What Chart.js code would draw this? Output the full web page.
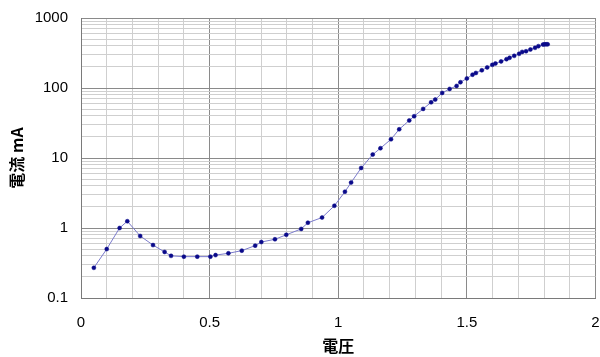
<!DOCTYPE html>
<html>
<head>
<meta charset="utf-8">
<script src="https://cdn.jsdelivr.net/npm/chart.js@4/dist/chart.umd.min.js"></script>
<style>
  html, body { margin: 0; padding: 0; background: #fff; }
  #wrap { width: 600px; height: 357px; }
</style>
</head>
<body>
<div id="wrap"><canvas id="c" width="600" height="357"></canvas></div>
<script>
// Voltage (V) and current (mA) samples of the diode I-V sweep
const voltage = [0.05, 0.10, 0.15, 0.18, 0.23, 0.28, 0.325, 0.35, 0.40, 0.452, 0.503, 0.523,
  0.573, 0.625, 0.677, 0.701, 0.754, 0.798, 0.856, 0.882, 0.937, 0.985, 1.026, 1.050, 1.089,
  1.134, 1.164, 1.205, 1.237, 1.276, 1.295, 1.330, 1.361, 1.377, 1.404, 1.433, 1.460, 1.475,
  1.500, 1.522, 1.535, 1.558, 1.579, 1.599, 1.611, 1.633, 1.654, 1.666, 1.684, 1.703, 1.715,
  1.730, 1.747, 1.765, 1.778, 1.796, 1.802, 1.808, 1.814];
const current = [0.27, 0.50, 1.0, 1.25, 0.77, 0.57, 0.455, 0.40, 0.39, 0.39, 0.39, 0.41,
  0.435, 0.475, 0.56, 0.63, 0.69, 0.80, 0.97, 1.19, 1.41, 2.08, 3.3, 4.46, 7.2,
  11.2, 13.8, 18.5, 25.7, 34.4, 39.5, 50.3, 62.5, 68.3, 85, 97, 107, 121,
  137, 155, 164, 179, 197, 214, 224, 240, 258, 270, 288, 308, 328,
  335, 355, 375, 396, 417, 420, 421, 420];

// Axis ranges and labelled ticks
const xTickLabels = [0, 0.5, 1, 1.5, 2];
const xMinorStep = 0.1;
const yTickLabels = [0.1, 1, 10, 100, 1000];

const points = voltage.map((v, i) => ({ x: v, y: current[i] }));

const isLabelledX = v => xTickLabels.some(t => Math.abs(t - v) < 1e-6);
const isDecade = v => yTickLabels.some(t => Math.abs(t - v) / t < 1e-6);

const MAJOR = '#8a8a8a';
const MINOR = '#cfcfcf';
const CLEAR = 'rgba(0,0,0,0)';
const tickFont = { family: '"Liberation Sans", Arial, sans-serif', size: 15 };
const titleFont = { family: '"Noto Sans CJK JP", sans-serif', size: 16, weight: 'bold' };

new Chart(document.getElementById('c'), {
  type: 'line',
  data: {
    datasets: [{
      data: points,
      borderColor: '#7a7acb',
      borderWidth: 1,
      pointBackgroundColor: '#0a0a8a',
      pointBorderColor: '#0a0a8a',
      pointRadius: 2,
      pointBorderWidth: 0.5,
      tension: 0,
      fill: false
    }]
  },
  options: {
    responsive: false,
    animation: false,
    events: [],
    layout: { padding: { left: 0, right: 0, top: 18, bottom: 0 } },
    plugins: { legend: { display: false }, tooltip: { enabled: false } },
    scales: {
      x: {
        type: 'linear',
        min: xTickLabels[0],
        max: xTickLabels[xTickLabels.length - 1],
        afterBuildTicks: scale => {
          const ticks = [];
          const n = Math.round((scale.max - scale.min) / xMinorStep);
          for (let i = 0; i <= n; i++) {
            ticks.push({ value: Math.round((scale.min + i * xMinorStep) * 1000) / 1000 });
          }
          scale.ticks = ticks;
        },
        afterFit: scale => { scale.height = 59; },
        ticks: {
          autoSkip: false,
          maxRotation: 0,
          padding: 0,
          color: '#000',
          font: tickFont,
          callback: v => (isLabelledX(v) ? String(v) : '')
        },
        grid: {
          drawTicks: true,
          tickLength: 16,
          tickColor: CLEAR,
          color: ctx => (ctx.tick && isLabelledX(ctx.tick.value) ? MAJOR : MINOR)
        },
        border: { color: '#7a7a7a', width: 1 },
        title: {
          display: true,
          text: '電圧',
          color: '#000',
          font: titleFont,
          padding: { top: 0, bottom: 1 }
        }
      },
      y: {
        type: 'logarithmic',
        min: yTickLabels[0],
        max: yTickLabels[yTickLabels.length - 1],
        afterBuildTicks: scale => {
          const ticks = [];
          for (let d = 0; d < yTickLabels.length - 1; d++) {
            for (let m = 1; m <= 9; m++) {
              ticks.push({ value: yTickLabels[d] * m });
            }
          }
          ticks.push({ value: yTickLabels[yTickLabels.length - 1] });
          scale.ticks = ticks;
        },
        afterFit: scale => { scale.width = 81; },
        ticks: {
          autoSkip: false,
          padding: 0,
          color: '#000',
          font: tickFont,
          callback: v => (isDecade(v) ? String(v) : '')
        },
        grid: {
          drawTicks: true,
          tickLength: 13,
          tickColor: CLEAR,
          color: ctx => (ctx.tick && isDecade(ctx.tick.value) ? MAJOR : MINOR)
        },
        border: { color: '#7a7a7a', width: 1 },
        title: {
          display: true,
          text: '電流 mA',
          color: '#000',
          font: titleFont,
          padding: { top: 7, bottom: 0 }
        }
      }
    }
  }
});
</script>
</body>
</html>
